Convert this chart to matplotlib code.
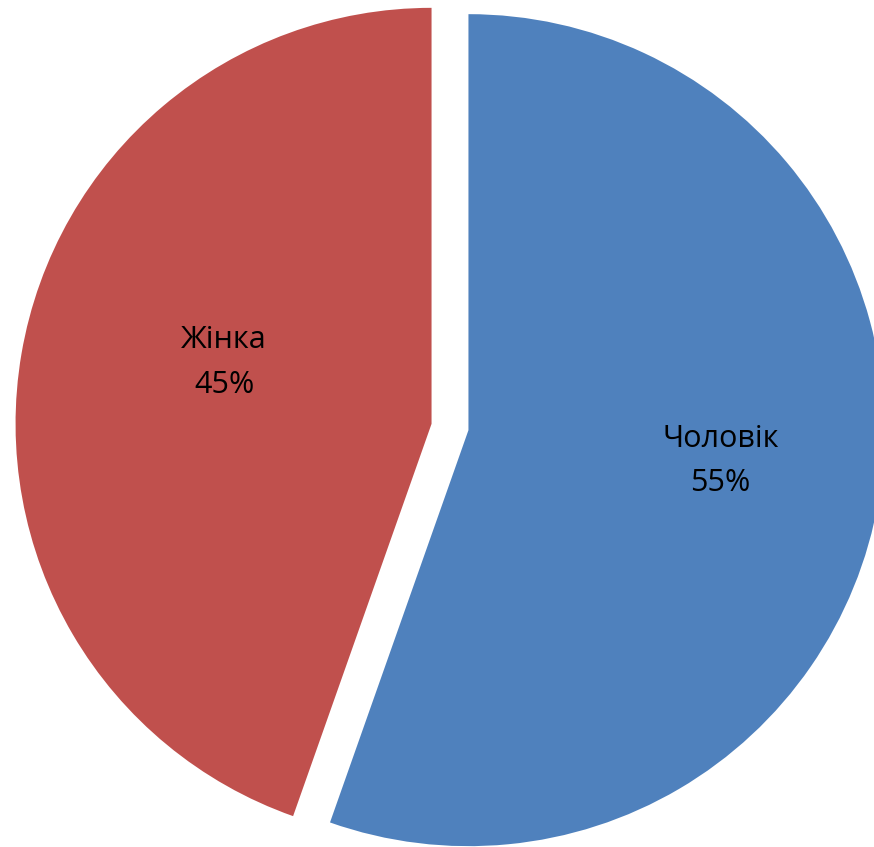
import matplotlib
matplotlib.use("Agg")
import matplotlib.pyplot as plt
import numpy as np

labels = ["Чоловік", "Жінка"]
values = [55.4, 44.6]
colors = ["#4F81BD", "#C0504D"]
# label placement inside each slice: (distance from slice centre, angle in degrees)
label_pos = [(0.61, -7.0), (0.52, 163.5)]

plt.rcParams["font.family"] = ["Open Sans", "DejaVu Sans"]

fig = plt.figure(figsize=(8.74, 8.47), dpi=100)
ax = fig.add_axes([0, 0, 1, 1])

wedges, texts = ax.pie(
    values,
    colors=colors,
    startangle=90,
    counterclock=False,
    explode=[0.045, 0.045],
    radius=1.0,
)

total = sum(values)
for w, lab, v, (d, a) in zip(wedges, labels, values, label_pos):
    cx, cy = w.center
    ang = np.deg2rad(a)
    ax.text(cx + d * np.cos(ang), cy + d * np.sin(ang),
            f"{lab}\n{v / total * 100:.0f}%",
            ha="center", va="center", fontsize=22, linespacing=1.62)

ax.set_aspect("auto")
ax.set_xlim(-450 / 416, 424 / 416)
ax.set_ylim(-420 / 416, 427 / 416)
ax.axis("off")

fig.savefig("out.png", dpi=100)
